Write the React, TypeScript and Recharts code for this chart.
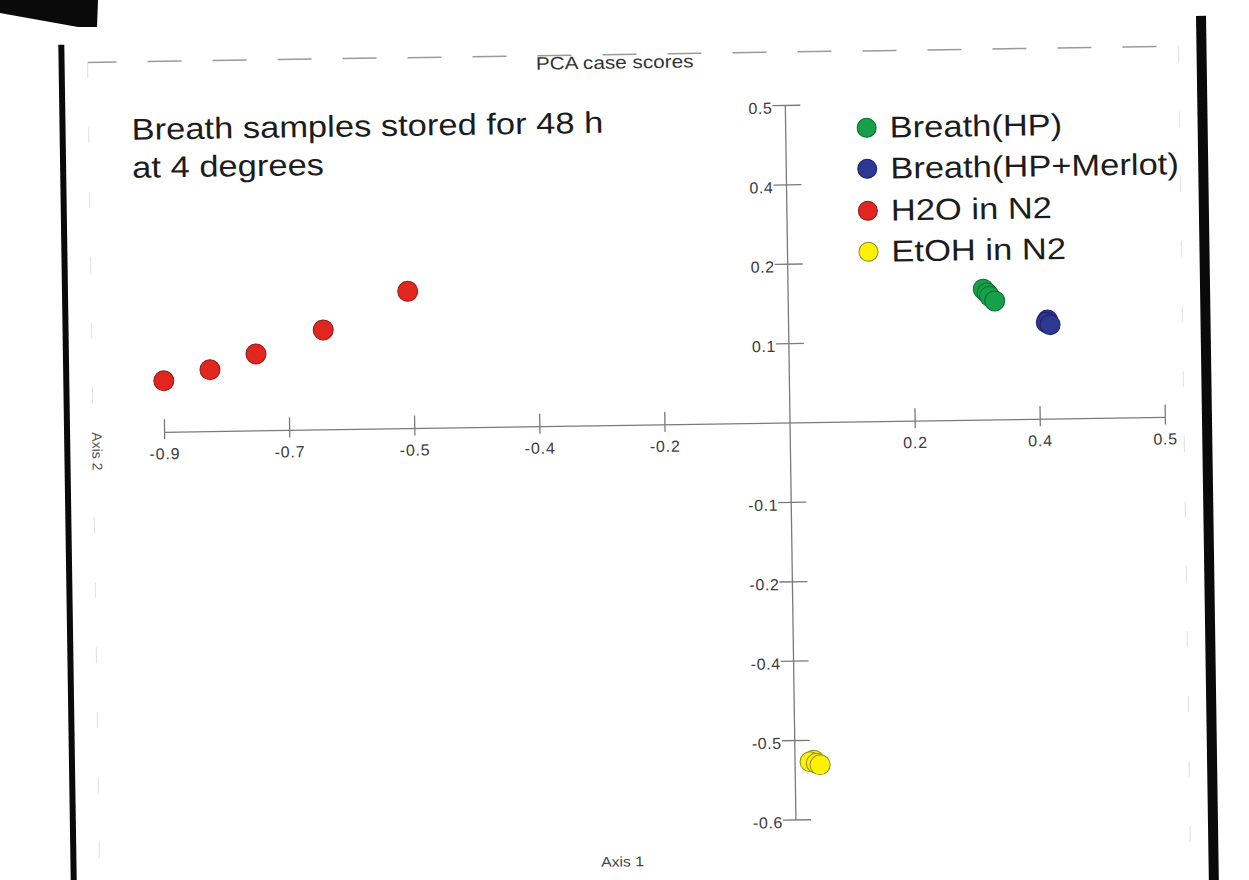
import React from "react";
import {
  Legend,
  ReferenceDot,
  ReferenceLine,
  Scatter,
  ScatterChart,
  XAxis,
  YAxis,
} from "recharts";

// axis positions are in tick steps; the printed labels are not evenly spaced
const xTickPos = [-5, -4, -3, -2, -1, 1, 2, 3];
const xTickLabels = ["-0.9", "-0.7", "-0.5", "-0.4", "-0.2", "0.2", "0.4", "0.5"];
const yTickPos = [4, 3, 2, 1, -1, -2, -3, -4, -5];
const yTickLabels = ["0.5", "0.4", "0.2", "0.1", "-0.1", "-0.2", "-0.4", "-0.5", "-0.6"];

const breathHP = [
  { x: 1.56, y: 1.65 },
  { x: 1.59, y: 1.6 },
  { x: 1.61, y: 1.56 },
  { x: 1.65, y: 1.5 },
];
const breathMerlot = [
  { x: 2.07, y: 1.25 },
  { x: 2.06, y: 1.22 },
  { x: 2.09, y: 1.19 },
];
const h2o = [
  { x: -5.0, y: 0.65 },
  { x: -4.63, y: 0.78 },
  { x: -4.26, y: 0.97 },
  { x: -3.72, y: 1.26 },
  { x: -3.04, y: 1.73 },
];
const etoh = [
  { x: 0.15, y: -4.25 },
  { x: 0.12, y: -4.27 },
  { x: 0.17, y: -4.29 },
  { x: 0.2, y: -4.31 },
];

const seriesNames = ["Breath(HP)", "Breath(HP+Merlot)", "H2O in N2", "EtOH in N2"];
const fills = ["#17a04a", "#2c3891", "#e1261f", "#fff100"];
const strokes = ["#0c6a2c", "#1a2160", "#8e1a16", "#8c8a2a"];

const font = '"Liberation Sans", Arial, sans-serif';
const axisColor = "#7a7a7a";

const dot = (i: number) => (p: any) => (
  <circle cx={p.cx} cy={p.cy} r={10} fill={fills[i]} stroke={strokes[i]} strokeWidth={1} />
);

function LegendBox({ payload }: any) {
  const items = [...(payload || [])].sort(
    (a: any, b: any) => seriesNames.indexOf(a.value) - seriesNames.indexOf(b.value)
  );
  return (
    <div style={{ fontFamily: font }}>
      {items.map((entry: any) => {
        const i = seriesNames.indexOf(entry.value);
        return (
          <div key={entry.value} style={{ display: "flex", alignItems: "center", height: 41.3 }}>
            <svg width={22} height={22} style={{ flex: "none" }}>
              <circle cx={11} cy={11} r={9.5} fill={entry.color} stroke={strokes[i]} strokeWidth={1} />
            </svg>
            <span
              style={{
                marginLeft: 12,
                fontSize: 30,
                color: "#1c1c1c",
                whiteSpace: "nowrap",
                display: "inline-block",
                transform: "scaleX(1.15)",
                transformOrigin: "left center",
              }}
            >
              {entry.value}
            </span>
          </div>
        );
      })}
    </div>
  );
}

export default function App() {
  const data = [breathHP, breathMerlot, h2o, etoh];
  return (
    <div
      style={{
        position: "absolute",
        left: 0,
        top: 0,
        width: 1249,
        height: 880,
        overflow: "hidden",
        background: "#fff",
        fontFamily: font,
      }}
    >
      <div
        style={{
          position: "absolute",
          left: 0,
          top: 0,
          width: 1249,
          height: 880,
          transform: "rotate(-0.85deg)",
          transformOrigin: "790px 423px",
        }}
      >
        {/* page frame of the scanned figure */}
        <svg width={1249} height={900} style={{ position: "absolute", left: 0, top: 0 }}>
          <line x1={93} x2={1176} y1={52} y2={52} stroke="#9a9a9a" strokeWidth={1.5} strokeDasharray="34 31" strokeDashoffset={5} />
          <line x1={93} x2={93} y1={52} y2={900} stroke="#e4e4e4" strokeWidth={1.2} strokeDasharray="16 49" />
          <line x1={1184} x2={1184} y1={52} y2={900} stroke="#e4e4e4" strokeWidth={1.2} strokeDasharray="16 49" />
        </svg>
        <div style={{ position: "absolute", left: 64, top: 34, width: 6, height: 880, background: "#0a0a0a" }} />
        <div style={{ position: "absolute", left: 1202, top: 22, width: 10, height: 900, background: "#0a0a0a" }} />

        <ScatterChart
          width={1249}
          height={880}
          margin={{ top: 57.8, right: 21.1, bottom: 20.3, left: 39.4 }}
          style={{ position: "absolute", left: 0, top: 0 }}
        >
          <XAxis type="number" dataKey="x" domain={[-6, 3.5]} hide allowDataOverflow />
          <YAxis type="number" dataKey="y" domain={[-5.5, 4.6]} hide allowDataOverflow />
          <ReferenceLine
            segment={[{ x: -5, y: 0 }, { x: 3, y: 0 }]}
            stroke={axisColor}
            strokeWidth={1.3}
            ifOverflow="visible"
          />
          <ReferenceLine
            segment={[{ x: 0, y: 4 }, { x: 0, y: -5 }]}
            stroke={axisColor}
            strokeWidth={1.3}
            ifOverflow="visible"
          />
          {xTickPos.map((t, i) => (
            <ReferenceDot
              key={"xt" + i}
              x={t}
              y={0}
              r={0}
              ifOverflow="visible"
              shape={(p: any) => (
                <g>
                  <line x1={p.cx} x2={p.cx} y1={p.cy - 13} y2={p.cy + 7} stroke={axisColor} strokeWidth={1.3} />
                  <text x={p.cx} y={p.cy + 27} textAnchor="middle" fontSize={16} letterSpacing={0.8} fill="#3c3c3c" fontFamily={font}>
                    {xTickLabels[i]}
                  </text>
                </g>
              )}
            />
          ))}
          {yTickPos.map((t, i) => (
            <ReferenceDot
              key={"yt" + i}
              x={0}
              y={t}
              r={0}
              ifOverflow="visible"
              shape={(p: any) => (
                <g>
                  <line x1={p.cx - 13} x2={p.cx + 15} y1={p.cy} y2={p.cy} stroke={axisColor} strokeWidth={1.3} />
                  <text x={p.cx - 13} y={p.cy + 8} textAnchor="end" fontSize={16} letterSpacing={0.6} fill="#3c3c3c" fontFamily={font}>
                    {yTickLabels[i]}
                  </text>
                </g>
              )}
            />
          ))}
          {data.map((d, i) => (
            <Scatter
              key={seriesNames[i]}
              name={seriesNames[i]}
              data={d}
              fill={fills[i]}
              shape={dot(i)}
              isAnimationActive={false}
            />
          ))}
          <Legend
            layout="vertical"
            verticalAlign="middle"
            align="center"
            content={<LegendBox />}
            wrapperStyle={{ position: "absolute", left: 860, top: 108.4, width: 360 }}
          />
        </ScatterChart>

        {/* titles and note */}
        <div
          style={{
            position: "absolute",
            left: 620,
            top: 50,
            fontSize: 18,
            lineHeight: "20px",
            color: "#333",
            whiteSpace: "nowrap",
            transform: "translateX(-50%) scaleX(1.15)",
          }}
        >
          PCA case scores
        </div>
        <div
          style={{
            position: "absolute",
            left: 136,
            top: 101,
            fontSize: 30,
            lineHeight: "38px",
            color: "#1c1c1c",
            whiteSpace: "nowrap",
            transform: "scaleX(1.15)",
            transformOrigin: "left top",
          }}
        >
          Breath samples stored for 48 h
          <br />
          at 4 degrees
        </div>
        <div
          style={{
            position: "absolute",
            left: 616,
            top: 851,
            fontSize: 14,
            color: "#444",
            whiteSpace: "nowrap",
            transform: "translateX(-50%) scaleX(1.12)",
          }}
        >
          Axis 1
        </div>
        <div
          style={{
            position: "absolute",
            left: 97,
            top: 441,
            fontSize: 14,
            color: "#555",
            whiteSpace: "nowrap",
            transform: "translate(-50%, -50%) rotate(90deg)",
          }}
        >
          Axis 2
        </div>
      </div>
      <div
        style={{
          position: "absolute",
          left: 0,
          top: 0,
          width: 98,
          height: 28,
          background: "#0a0a0a",
          clipPath: "polygon(0 0, 98px 0, 97px 27px, 78px 27px, 0 13px)",
        }}
      />
    </div>
  );
}
